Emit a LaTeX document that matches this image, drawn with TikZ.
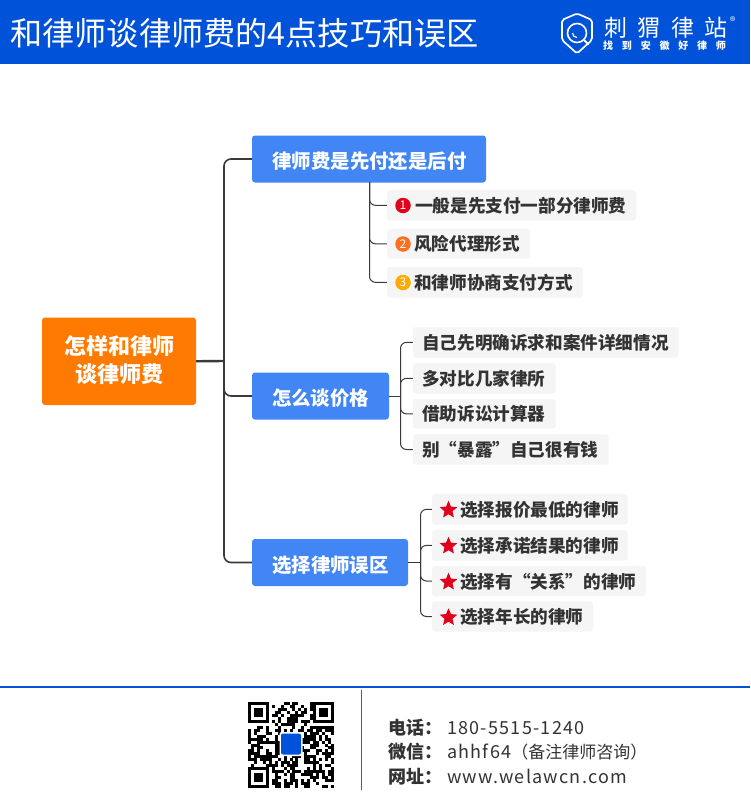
\documentclass[tikz,border=0pt]{standalone}
\usepackage{fontspec}
\setmainfont{Noto Sans CJK SC}
\usetikzlibrary{shapes.geometric}
\definecolor{hdr}{HTML}{0052D9}
\definecolor{branch}{HTML}{4286F5}
\definecolor{rootc}{HTML}{FF7A00}
\definecolor{leaff}{HTML}{F5F5F5}
\definecolor{ink}{HTML}{333333}
\definecolor{starred}{HTML}{E0001B}
\definecolor{numo}{HTML}{FF6F1E}
\definecolor{numy}{HTML}{FFAA00}
\definecolor{linec}{HTML}{3A3A3A}
\newcommand{\fs}[1]{\fontsize{#1}{#1}\selectfont}
\tikzset{
  boxbase/.style={rectangle,rounded corners=3pt,inner sep=0pt,draw=none},
  leafbox/.style={boxbase,fill=leaff},
  branchbox/.style={boxbase,fill=branch},
  rootbox/.style={boxbase,fill=rootc},
  lefttext/.style={anchor=base west,inner sep=0pt,text=ink,font=\fs{17.6}\bfseries},
  branchtext/.style={anchor=base,inner sep=0pt,text=white,font=\fs{19.4}\bfseries},
  numdot/.style={circle,inner sep=0pt,minimum size=15.5pt,text=white,font=\fs{12}},
  redstar/.style={star,star points=5,star point ratio=2.2,fill=starred,inner sep=0pt,minimum size=18.5pt},
  conn/.style={draw=linec,line width=1pt,rounded corners=6pt},
  trunk/.style={draw=linec,line width=1.6pt,rounded corners=7pt},
  foot/.style={anchor=base west,inner sep=0pt,text=ink,font=\fs{18}},
}
\newcommand{\bx}[6]{\node[#1,minimum width={#5-#3},minimum height={#6-#4}] (#2) at ({(#3+#5)/2},{(#4+#6)/2}) {};}
\newcommand{\flabel}[1]{\makebox[59pt][l]{\bfseries #1}}
\begin{document}
\begin{tikzpicture}[x=1pt,y=-1pt]
\useasboundingbox (0,0) rectangle (750,800);
\fill[white] (0,0) rectangle (750,800);
% header
\fill[hdr] (0,0) rectangle (750,64);
\node[anchor=base west,inner sep=0pt,text=white,font=\fs{32.2}] (title) at (10,45.5) {和律师谈律师费的4点技巧和误区};
% logo
\draw[white,line width=1.7pt,line join=round,rounded corners=2pt] (577,13.5) -- (592,20) -- (592,40) -- (577,53.5) -- (562,40) -- (562,20) -- cycle;
\draw[white,line width=1.6pt] (577,33) circle (9.5);
\draw[white,line width=1.2pt] (572.5,33) arc (180:90:4.5);
\draw[white,line width=1.8pt] (584,40) -- (588.5,44.5);
\node[anchor=base west,inner sep=0pt,text=white,font=\fs{23}] (logoname) at (604,37) {\addfontfeature{LetterSpace=46}刺猬律站};
\node[anchor=base west,inner sep=0pt,text=white,font=\fs{10}\bfseries] (logosub) at (603,50) {\addfontfeature{LetterSpace=88}找到安徽好律师};
\node[anchor=base west,inner sep=0pt,text=white,font=\fs{11}] (logoreg) at (730,26) {®};
% boxes
\bx{rootbox}{root}{42}{317.5}{196}{405}
\bx{branchbox}{b1}{252}{135.5}{486}{182.5}
\bx{branchbox}{b2}{252}{372.5}{389}{419.5}
\bx{branchbox}{b3}{252}{539}{408}{586}
\bx{leafbox}{a1}{387}{190}{636}{220.7}
\bx{leafbox}{a2}{387}{229}{530}{258.7}
\bx{leafbox}{a3}{387}{267}{582.7}{297.7}
\bx{leafbox}{c1}{413}{327}{678.7}{357.7}
\bx{leafbox}{c2}{413}{363}{555.7}{393.7}
\bx{leafbox}{c3}{413}{399}{555.7}{428.7}
\bx{leafbox}{c4}{413}{434.3}{608.7}{464.7}
\bx{leafbox}{d1}{432}{494}{627.7}{524.7}
\bx{leafbox}{d2}{432}{530}{627.7}{560.7}
\bx{leafbox}{d3}{432}{566}{646}{596}
\bx{leafbox}{d4}{432}{601.3}{593}{631.7}
% connectors
\coordinate (tr) at (224,361);
\coordinate (ja) at (369.5,182);
\coordinate (jc) at (400.5,396);
\coordinate (jd) at (420.5,562.5);
\draw[trunk,line width=2.4pt,rounded corners=0pt] (root.east) -- (tr);
\draw[trunk] (tr) |- (b1.west);
\draw[trunk] (tr) |- (b2.west);
\draw[trunk] (tr) |- (b3.west);
\draw[conn] (ja) |- (a1.west);
\draw[conn] (ja) |- (a2.west);
\draw[conn] (ja) |- (a3.west);
\draw[conn,rounded corners=0pt] (b2.east) -- (jc);
\draw[conn] (jc) |- (c1.west);
\draw[conn] (jc) |- (c2.west);
\draw[conn] (jc) |- (c3.west);
\draw[conn] (jc) |- (c4.west);
\draw[conn,rounded corners=0pt] (b3.east) -- (jd);
\draw[conn] (jd) |- (d1.west);
\draw[conn] (jd) |- (d2.west);
\draw[conn] (jd) |- (d3.west);
\draw[conn] (jd) |- (d4.west);
% text of root and branches
\node[branchtext,font=\fs{22}\bfseries] (rt1) at (119.5,354.5) {怎样和律师};
\node[branchtext,font=\fs{22}\bfseries] (rt2) at (119.5,382.5) {谈律师费};
\node[branchtext] (b1t) at (369.5,168.5) {律师费是先付还是后付};
\node[branchtext] (b2t) at (320.5,405) {怎么谈价格};
\node[branchtext] (b3t) at (330.5,572) {选择律师误区};
% numbered leaves
\node[numdot,fill=starred] (n1) at (403,205.5) {1};
\node[numdot,fill=numo] (n2) at (403,244) {2};
\node[numdot,fill=numy] (n3) at (403,282.5) {3};
\node[lefttext] (a1t) at (415,212) {一般是先支付一部分律师费};
\node[lefttext] (a2t) at (414,250.5) {风险代理形式};
\node[lefttext] (a3t) at (414,289) {和律师协商支付方式};
% plain leaves
\node[lefttext] (c1t) at (422,349) {自己先明确诉求和案件详细情况};
\node[lefttext] (c2t) at (422,385) {多对比几家律所};
\node[lefttext] (c3t) at (422,420.5) {借助诉讼计算器};
\node[lefttext] (c4t) at (422,456) {别“暴露”自己很有钱};
% starred leaves
\node[redstar] (s1) at (448.5,510) {};
\node[redstar] (s2) at (448.5,546) {};
\node[redstar] (s3) at (448.5,582) {};
\node[redstar] (s4) at (448.5,617.5) {};
\node[lefttext] (d1t) at (460,516.5) {选择报价最低的律师};
\node[lefttext] (d2t) at (460,552.5) {选择承诺结果的律师};
\node[lefttext] (d3t) at (460,588) {选择有“关系”的律师};
\node[lefttext] (d4t) at (460,623.5) {选择年长的律师};
% footer
\draw[hdr,line width=2pt] (0,687) -- (750,687);
\draw[black!65,line width=1pt] (361,690) -- (361,790);
% QR code
\pgfmathsetseed{4217}
\foreach \i in {0,...,28}{
  \foreach \j in {0,...,28}{
    \pgfmathrandominteger{\r}{0}{99}
    \ifnum\r<56
      \fill[black] ({248+\i*2.966},{702+\j*2.966}) rectangle ++(3,3);
    \fi
  }
}
\foreach \cx/\cy in {248/702,313.3/702,248/767.3}{
  \fill[white] (\cx-0.01,\cy-0.01) rectangle ++(23.8,23.8);
  \draw[black,line width=3pt] (\cx+1.5,\cy+1.5) rectangle ++(17.8,17.8);
  \fill[black] (\cx+5.9,\cy+5.9) rectangle ++(9,9);
}
\fill[white,rounded corners=2pt] (279.5,732) rectangle (302.5,756);
\fill[hdr,rounded corners=2pt] (281,733.5) rectangle (301,754.5);
% footer text
\node[foot] (f1) at (388,734) {\flabel{电话：}\addfontfeature{LetterSpace=7}180-5515-1240};
\node[foot] (f2) at (388,758.5) {\flabel{微信：}{\addfontfeature{LetterSpace=7}ahhf64}{\fs{17}（备注律师咨询）}};
\node[foot] (f3) at (388,783) {\flabel{网址：}\addfontfeature{LetterSpace=7}www.welawcn.com};
\end{tikzpicture}
\end{document}
